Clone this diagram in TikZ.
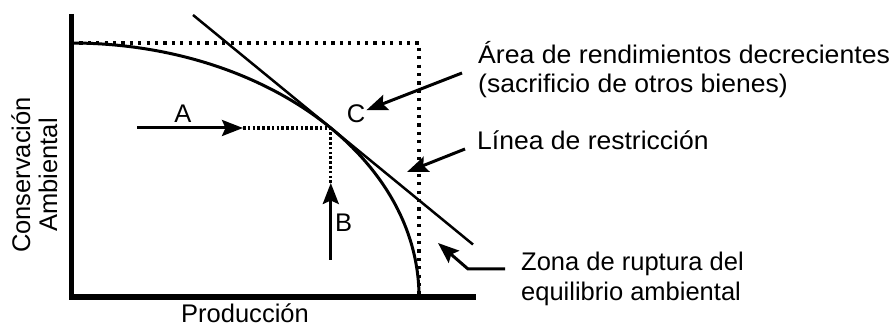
\documentclass[tikz,border=0pt]{standalone}
\usepackage{fontspec}
\setmainfont{Liberation Sans}
\usetikzlibrary{arrows.meta}

\begin{document}
\begin{tikzpicture}[x=1pt,y=1pt,>={Stealth[length=21pt,width=16pt,inset=3.5pt]},
lbl/.style={font=\fontsize{25.5}{29}\selectfont,inner sep=0pt},
pts/.style={line width=3.2pt,dash pattern=on 3.2pt off 5.2pt},
fine/.style={line width=3.2pt,dash pattern=on 2.5pt off 2.3pt},
arr/.style={line width=3pt,->}]
\useasboundingbox (0,0) rectangle (893,329);
\coordinate (ytop) at (71,315);
\coordinate (o) at (71,32);
\coordinate (xend) at (476,32);
\coordinate (top) at (71,286);
\coordinate (corner) at (419,286);
\coordinate (r) at (419,32);
\coordinate (t) at (330.8,201);
\coordinate (l1) at (193,314);
\coordinate (l2) at (473,84.5);
\draw[line width=5pt](ytop)--(o)--(xend);
\draw[pts](top)--(corner)--(r);
\draw[line width=3pt](top) arc[start angle=90,end angle=0,x radius=348pt,y radius=254pt];
\draw[line width=2.5pt](l1)--(l2);
\coordinate (a0) at (137,201);
\coordinate (a1) at (243,201);
\coordinate (b0) at (330.8,69);
\coordinate (b1) at (330.8,146);
\draw[arr](a0)--(a1);
\draw[fine](a1)--(t);
\draw[arr](b0)--(b1);
\draw[fine](b1)--(t);
\node[lbl,anchor=base] (A) at (183,206) {A};
\node[lbl,anchor=base west] (B) at (335,97) {B};
\node[lbl,anchor=base,inner sep=1pt] (C) at (356,206) {C};
\coordinate (c0) at (462,256);
\coordinate (d0) at (465,180);
\coordinate (d1) at (407,157);
\coordinate (z0) at (505,60);
\coordinate (z1) at (468,60);
\coordinate (z2) at (438,86);
\draw[arr](c0)--(C);
\draw[arr](d0)--(d1);
\draw[arr](z0)--(z1)--(z2);
\node[lbl,anchor=base west,xscale=1.045] (area1) at (478,265) {Área de rendimientos decrecientes};
\node[lbl,anchor=base west,xscale=1.04] (area2) at (478,236) {(sacrificio de otros bienes)};
\node[lbl,anchor=base west,xscale=1.04] (linea) at (477,179) {Línea de restricción};
\node[lbl,anchor=base west] (zona1) at (521,58) {Zona de ruptura del};
\node[lbl,anchor=base west] (zona2) at (521,29) {equilibrio ambiental};
\node[lbl,anchor=base] (prod) at (245,7) {Producción};
\node[lbl,anchor=base,rotate=90] (cons) at (30,154) {Conservación};
\node[lbl,anchor=base,rotate=90] (amb) at (57,154) {Ambiental};
\end{tikzpicture}
\end{document}
